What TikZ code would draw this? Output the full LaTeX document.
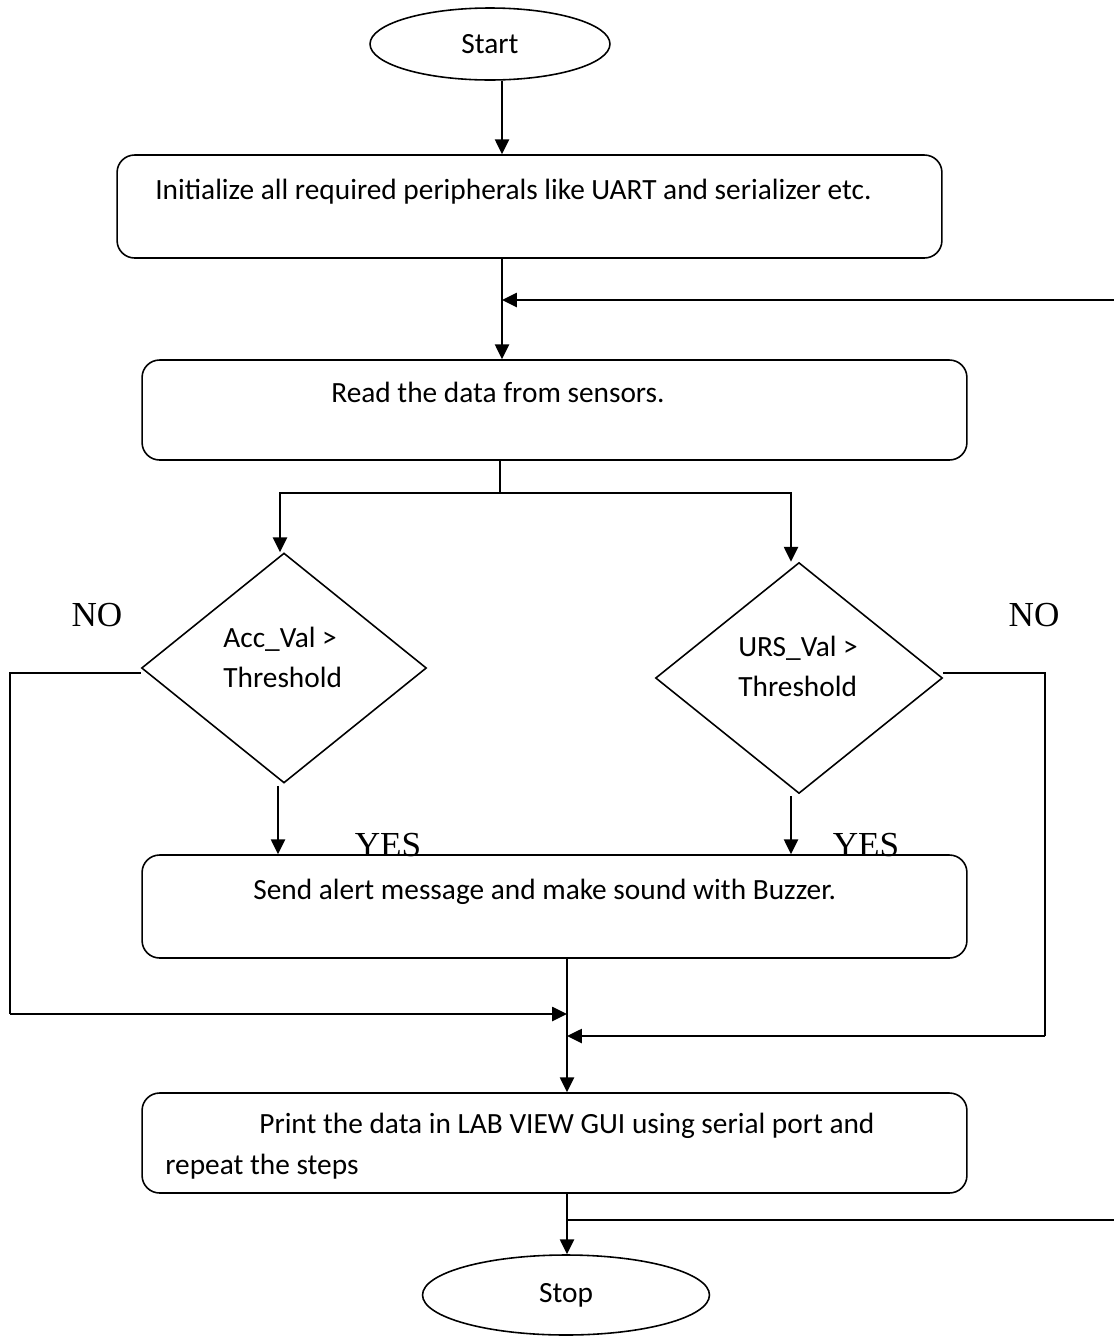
\documentclass[tikz,border=0pt]{standalone}
\usepackage{fontspec}
\setmainfont{Carlito}
\newfontfamily\timesfont{Liberation Serif}
\usetikzlibrary{shapes.geometric,arrows.meta,positioning,calc}
\tikzstyle{terminal} = [ellipse, draw=black, line width=0.9pt, inner sep=0pt, font=\fontsize{16.7}{20}\selectfont]
\tikzstyle{process} = [rectangle, rounded corners=0.35cm, minimum width=16.5cm, minimum height=2cm, draw=black, line width=0.9pt]
\tikzstyle{decision} = [diamond, draw=black, line width=0.9pt, inner sep=0pt]
\tikzstyle{txt} = [font=\fontsize{16.7}{22.7}\selectfont, inner sep=0pt, anchor=west]
\tikzstyle{answer} = [font=\timesfont\fontsize{20}{24}\selectfont, inner sep=0pt]
\tikzstyle{arrow} = [line width=1.3pt, -{Triangle[length=8.5pt,width=8pt]}]
\tikzstyle{line} = [line width=1pt]

\begin{document}
\begin{tikzpicture}[x=0.02cm,y=-0.02cm]
	\useasboundingbox (0,0) rectangle (1114,1336);

	% shapes
	\node (start) [terminal, minimum width=4.8cm, minimum height=1.44cm] at (490,44) {Start};
	\node (init) [process, minimum height=2.06cm] at (529.5,206.5) {};
	\node (read) [process] at (554.5,410) {};
	\node (acc) [decision, minimum width=5.7cm, minimum height=4.6cm] at (284,668) {};
	\node (urs) [decision, minimum width=5.74cm, minimum height=4.62cm] at (799,678) {};
	\node (send) [process, minimum height=2.06cm] at (554.5,906.5) {};
	\node (print) [process] at (554.5,1143) {};
	\node (stop) [terminal, minimum width=5.74cm, minimum height=1.6cm] at (566,1295) {Stop};

	% texts
	\node (initText) [txt] at (155,192) {Initialize all required peripherals like UART and serializer etc.};
	\node (readText) [txt] at (331,392) {Read the data from sensors.};
	\node (accText) [txt, align=left] at (223,657) {Acc\_Val >\\Threshold};
	\node (ursText) [txt, align=left] at (738,666) {URS\_Val >\\Threshold};
	\node (sendText) [txt] at (253,892) {Send alert message and make sound with Buzzer.};
	\node (printText) [txt] at (259,1126) {Print the data in LAB VIEW GUI using serial port and};
	\node (printTextB) [txt] at (165,1167) {repeat the steps};

	\node (noA) [answer] at (97,615) {NO};
	\node (noB) [answer] at (1034,615) {NO};
	\node (yesA) [answer] at (388,845) {YES};
	\node (yesB) [answer] at (866,845) {YES};

	% helper coordinates
	\coordinate (spine) at (502,0);
	\coordinate (loopIn) at (1114,300);
	\coordinate (split) at (500,493);
	\coordinate (leftRail) at (10,0);
	\coordinate (rightRail) at (1045,0);
	\coordinate (joinA) at (567,1014);
	\coordinate (joinB) at (567,1036);
	\coordinate (loopOut) at (1114,1220);
	\coordinate (accNo) at ([yshift=-0.1cm]acc.west);
	\coordinate (ursNo) at ([yshift=0.1cm]urs.east);
	\coordinate (accOut) at ([shift={(-0.12cm,-0.04cm)}]acc.south);
	\coordinate (ursOut) at ([shift={(-0.16cm,-0.04cm)}]urs.south);

	% connectors
	\draw[arrow] (start.south -| spine) -- (init.north -| spine);
	\draw[arrow] (init.south -| spine) -- (read.north -| spine);
	\draw[arrow] (loopIn) -- (loopIn -| spine);
	\draw[line] (read.south -| split) -- (split);
	\draw[arrow] (split) -| ([xshift=-0.08cm]acc.north);
	\draw[arrow] (split) -| ([xshift=-0.16cm]urs.north);
	\draw[line] (accNo) -| (leftRail |- joinA);
	\draw[arrow] (leftRail |- joinA) -- (joinA);
	\draw[line] (ursNo) -| (rightRail |- joinB);
	\draw[arrow] (rightRail |- joinB) -- (joinB);
	\draw[arrow] (accOut) -- (accOut |- send.north);
	\draw[arrow] (ursOut) -- (ursOut |- send.north);
	\draw[arrow] (send.south -| joinA) -- (print.north -| joinA);
	\draw[arrow] (print.south -| joinA) -- (stop.north -| joinA);
	\draw[line] (loopOut -| joinA) -- (loopOut);
\end{tikzpicture}
\end{document}
